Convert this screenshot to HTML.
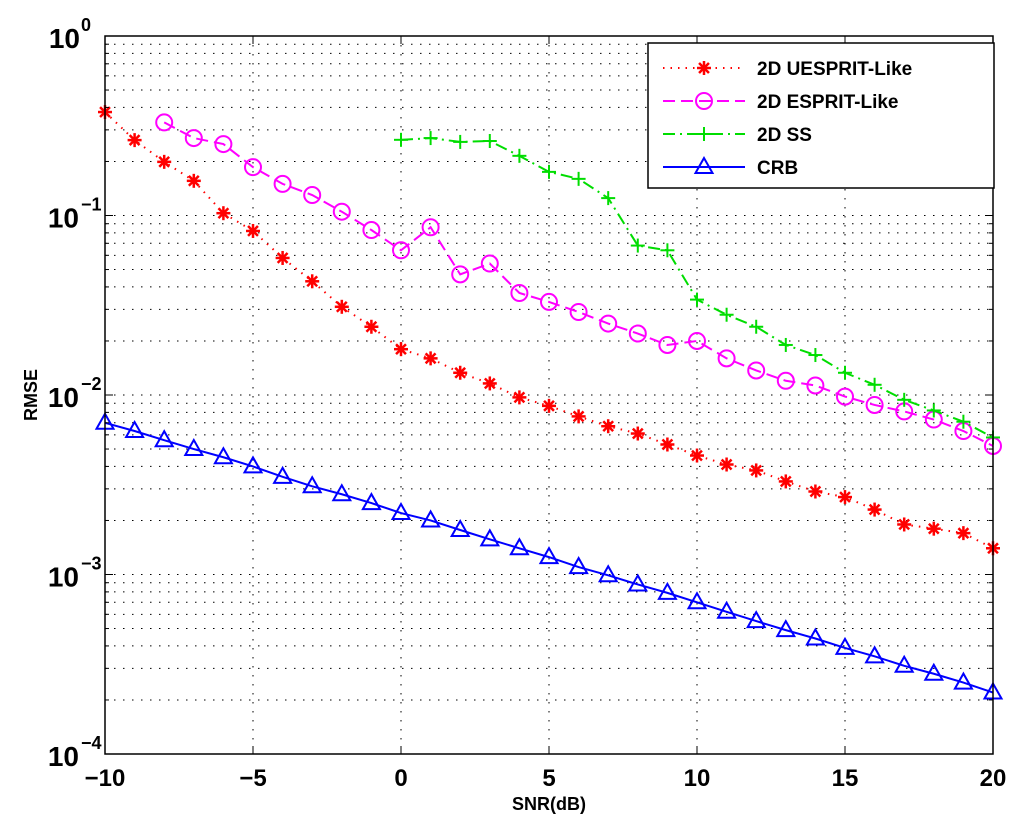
<!DOCTYPE html>
<html><head><meta charset="utf-8"><style>
body{margin:0;background:#fff}
svg text{font-family:"Liberation Sans",sans-serif;font-weight:bold}
</style></head><body>
<svg id="chart" width="1024" height="835" xmlns="http://www.w3.org/2000/svg">
<rect width="1024" height="835" fill="#fff"/>
<g id="grid"></g>
<g id="series"></g>
<rect x="105" y="36" width="888" height="718" fill="none" stroke="#000" stroke-width="1.5"/>
<g id="ticks"></g>
<text x="549" y="810" font-size="18" text-anchor="middle">SNR(dB)</text>
<text x="37" y="395" font-size="18" text-anchor="middle" transform="rotate(-90 37 395)">RMSE</text>
<g id="legend"></g>
</svg>
<script>
const snrAll=[-10,-9,-8,-7,-6,-5,-4,-3,-2,-1,0,1,2,3,4,5,6,7,8,9,10,11,12,13,14,15,16,17,18,19,20];
const uesprit=[0.377,0.263,0.199,0.156,0.103,0.082,0.058,0.043,0.031,0.024,0.018,0.016,0.0133,0.0116,0.0097,0.0087,0.0076,0.0067,0.0061,0.0053,0.0046,0.0041,0.0038,0.0033,0.0029,0.0027,0.0023,0.0019,0.0018,0.0017,0.0014];
const snrEsprit=snrAll.slice(2);
const esprit=[0.33,0.27,0.25,0.186,0.15,0.13,0.105,0.083,0.064,0.086,0.047,0.054,0.037,0.033,0.029,0.025,0.022,0.019,0.020,0.016,0.0137,0.012,0.0113,0.0098,0.0088,0.0081,0.0073,0.0063,0.0052];
const snrSS=snrAll.slice(10);
const ss=[0.264,0.27,0.257,0.26,0.215,0.175,0.16,0.125,0.068,0.064,0.034,0.028,0.024,0.019,0.0167,0.0133,0.0114,0.0094,0.0082,0.0071,0.0058];
const crb=[0.0070,0.0063,0.0056,0.0050,0.0045,0.0040,0.0035,0.0031,0.0028,0.0025,0.0022,0.0020,0.00177,0.00157,0.0014,0.00125,0.0011,0.00099,0.00088,0.00079,0.0007,0.00062,0.00055,0.00049,0.00044,0.00039,0.00035,0.00031,0.00028,0.00025,0.00022];
const xTicks=[-10,-5,0,5,10,15,20];
const xTickLabels=["\u221210","\u22125","0","5","10","15","20"];
const yExps=[0,-1,-2,-3,-4];
const legendLabels=["2D UESPRIT-Like","2D ESPRIT-Like","2D SS","CRB"];

const NS="http://www.w3.org/2000/svg";
const L=105,R=993,T=36,B=754;
const xs=v=>L+(v+10)/30*(R-L);
const ys=v=>T+(-Math.log10(v))/4*(B-T);
function mk(tag,attrs,parent){const e=document.createElementNS(NS,tag);for(const k in attrs)e.setAttribute(k,attrs[k]);parent.appendChild(e);return e;}
const grid=document.getElementById('grid'),ticks=document.getElementById('ticks'),ser=document.getElementById('series'),leg=document.getElementById('legend');
xTicks.forEach((t,i)=>{const x=xs(t);
 if(i>0&&i<xTicks.length-1){const g=mk('line',{x1:x,x2:x,y1:T,y2:B,stroke:'#000','stroke-width':1,'stroke-dasharray':'1.5 7.5'},grid);}
 mk('line',{x1:x,x2:x,y1:B,y2:B-8,stroke:'#000'},ticks);mk('line',{x1:x,x2:x,y1:T,y2:T+8,stroke:'#000'},ticks);
 const tx=mk('text',{x:x,y:B+32,'font-size':24,'text-anchor':'middle'},ticks);tx.textContent=xTickLabels[i];
 
});
for(let d=0;d<4;d++){for(let m=1;m<=9;m++){const v=Math.pow(10,-(d+1))*m;const y=ys(v);
 if(m>1||d<3){const g=mk('line',{x1:L,x2:R,y1:y,y2:y,stroke:'#000','stroke-width':1,'stroke-dasharray':'1.5 7.5'},grid);}
 const len=m==1?8:4;mk('line',{x1:L,x2:L+len,y1:y,y2:y,stroke:'#000'},ticks);mk('line',{x1:R,x2:R-len,y1:y,y2:y,stroke:'#000'},ticks);}}
yExps.forEach(e=>{const y=ys(Math.pow(10,e));
 const tx=mk('text',{x:auto=e===0?80:79,y:y+12,'font-size':28,'text-anchor':'end'},ticks);tx.textContent='10';
 
 const sp=mk('text',{x:81,y:y-5,'font-size':18,'text-anchor':'start'},ticks);sp.textContent=String(e).replace('-','\u2212');
});
function marker(type,x,y,color,g){
 if(type==='star'){for(let a=0;a<4;a++){const an=a*Math.PI/4;mk('line',{x1:x-7*Math.cos(an),y1:y-7*Math.sin(an),x2:x+7*Math.cos(an),y2:y+7*Math.sin(an),stroke:color,'stroke-width':2.5},g);}}
 else if(type==='circle'){mk('circle',{cx:x,cy:y,r:8,fill:'none',stroke:color,'stroke-width':2},g);}
 else if(type==='plus'){mk('line',{x1:x-7,x2:x+7,y1:y,y2:y,stroke:color,'stroke-width':2},g);mk('line',{x1:x,x2:x,y1:y-7,y2:y+7,stroke:color,'stroke-width':2},g);}
 else if(type==='tri'){mk('polygon',{points:`${x},${y-9} ${x-8.5},${y+6} ${x+8.5},${y+6}`,fill:'none',stroke:color,'stroke-width':2},g);}
}
const defs=[
 {n:'uesprit',xv:snrAll,yv:uesprit,c:'#ff0000',d:'1.5 6',m:'star'},
 {n:'esprit',xv:snrEsprit,yv:esprit,c:'#ff00ff',d:'12 6',m:'circle'},
 {n:'ss',xv:snrSS,yv:ss,c:'#00dd00',d:'12 5 2 5',m:'plus'},
 {n:'crb',xv:snrAll,yv:crb,c:'#0000ff',d:'none',m:'tri'}];
mk('rect',{x:648,y:43,width:346,height:145,fill:'#fff',stroke:'#000','stroke-width':1.5},leg);
defs.forEach((s,si)=>{
 const g=mk('g',{},ser);
 
 
 const pts=s.xv.map((x,i)=>xs(x)+','+ys(s.yv[i])).join(' ');
 mk('polyline',{points:pts,fill:'none',stroke:s.c,'stroke-width':2,'stroke-dasharray':s.d},g);
 s.xv.forEach((x,i)=>marker(s.m,xs(x),ys(s.yv[i]),s.c,g));
 const ly=68+si*33;
 const lg=mk('g',{},leg);
 
 
 mk('line',{x1:663,x2:745,y1:ly,y2:ly,stroke:s.c,'stroke-width':2,'stroke-dasharray':s.d},lg);
 marker(s.m,704,ly,s.c,lg);
 const t=mk('text',{x:757,y:ly+7,'font-size':19},lg);t.textContent=legendLabels[si];
});
</script>
</body></html>
